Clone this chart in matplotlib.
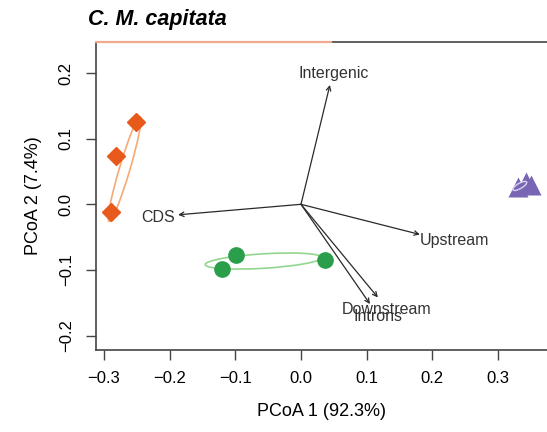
import numpy as np
import matplotlib
matplotlib.use("Agg")
import matplotlib.pyplot as plt
from matplotlib.patches import Ellipse

plt.rcParams['font.family'] = ['Liberation Sans', 'DejaVu Sans']

# group scores (PCoA 1, PCoA 2)
orange_x = [-0.251, -0.282, -0.289]
orange_y = [0.126, 0.073, -0.012]
green_x = [-0.099, -0.120, 0.037]
green_y = [-0.077, -0.098, -0.085]
purple_x = [0.330, 0.343, 0.350]
purple_y = [0.027, 0.034, 0.030]

# loading vectors
vec_names = ['Intergenic', 'CDS', 'Upstream', 'Downstream', 'Introns']
vec_x = [0.044, -0.187, 0.181, 0.117, 0.105]
vec_y = [0.182, -0.016, -0.046, -0.142, -0.152]
lab_x = [0.049, -0.218, 0.234, 0.130, 0.117]
lab_y = [0.200, -0.020, -0.055, -0.160, -0.171]

# confidence ellipses: centre x, centre y, width, height, angle
ell_orange = (-0.2685, 0.0535, 0.166, 0.016, 73.5)
ell_green = (-0.057, -0.0865, 0.178, 0.022, 3.5)
ell_purple = (0.333, 0.028, 0.024, 0.008, 30)

xticks = [-0.3, -0.2, -0.1, 0.0, 0.1, 0.2, 0.3]
yticks = [-0.2, -0.1, 0.0, 0.1, 0.2]

fig = plt.figure(figsize=(5.47, 4.32), dpi=100)
ax = fig.add_axes([96/547, 82/432, 451/547, 308.3/432])
ax.set_xlim(-0.312, 0.3744)
ax.set_ylim(-0.2221, 0.2479)

for e, c in [(ell_orange, '#F6A877'), (ell_green, '#93D68F')]:
    ax.add_patch(Ellipse((e[0], e[1]), e[2], e[3], angle=e[4], fill=False,
                         edgecolor=c, lw=1.2, zorder=2))

ax.plot(orange_x, orange_y, 'D', color='#E85A1C', ms=9, zorder=3)
ax.plot(green_x, green_y, 'o', color='#2A9E4A', ms=11, zorder=3)
ax.plot(purple_x, purple_y, '^', color='#7866B5', ms=15, mec='none', zorder=3)
ax.add_patch(Ellipse((ell_purple[0], ell_purple[1]), ell_purple[2], ell_purple[3],
                     angle=ell_purple[4], fill=False, edgecolor='#D9D2F0', lw=1, zorder=4))

for n, vx, vy, lx, ly in zip(vec_names, vec_x, vec_y, lab_x, lab_y):
    ax.annotate('', xy=(vx, vy), xytext=(0, 0),
                arrowprops=dict(arrowstyle='->', color='#2a2a2a', lw=0.9,
                                shrinkA=0, shrinkB=0, mutation_scale=8))
    ax.text(lx, ly, n, ha='center', va='center', fontsize=11.5, color='#333333')

ax.set_xticks(xticks)
ax.set_yticks(yticks)
ax.set_xticklabels(['\u22120.3', '\u22120.2', '\u22120.1', '0.0', '0.1', '0.2', '0.3'])
ax.set_yticklabels(['\u22120.2', '\u22120.1', '0.0', '0.1', '0.2'], rotation=90, va='center')
ax.tick_params(axis='both', length=7, width=1, color='#444444', labelsize=12)
ax.tick_params(axis='x', pad=8)
ax.tick_params(axis='y', pad=9)
ax.spines['right'].set_visible(False)
for s in ['left', 'top', 'bottom']:
    ax.spines[s].set_color('#444444')
    ax.spines[s].set_linewidth(1.2)

# faint orange tint on the top border
ax.plot([-0.312, 0.045], [0.2479, 0.2479], color='#F0A890', lw=1.6, clip_on=False, zorder=5)

ax.set_xlabel('PCoA 1 (92.3%)', fontsize=13, labelpad=12)
ax.set_ylabel('PCoA 2 (7.4%)', fontsize=13, labelpad=12)

fig.text(88/547, 1 - 20/432, 'C. M. capitata', fontsize=15.5, fontweight='bold',
         fontstyle='italic', ha='left', va='center')

fig.savefig('out.png', dpi=100)
